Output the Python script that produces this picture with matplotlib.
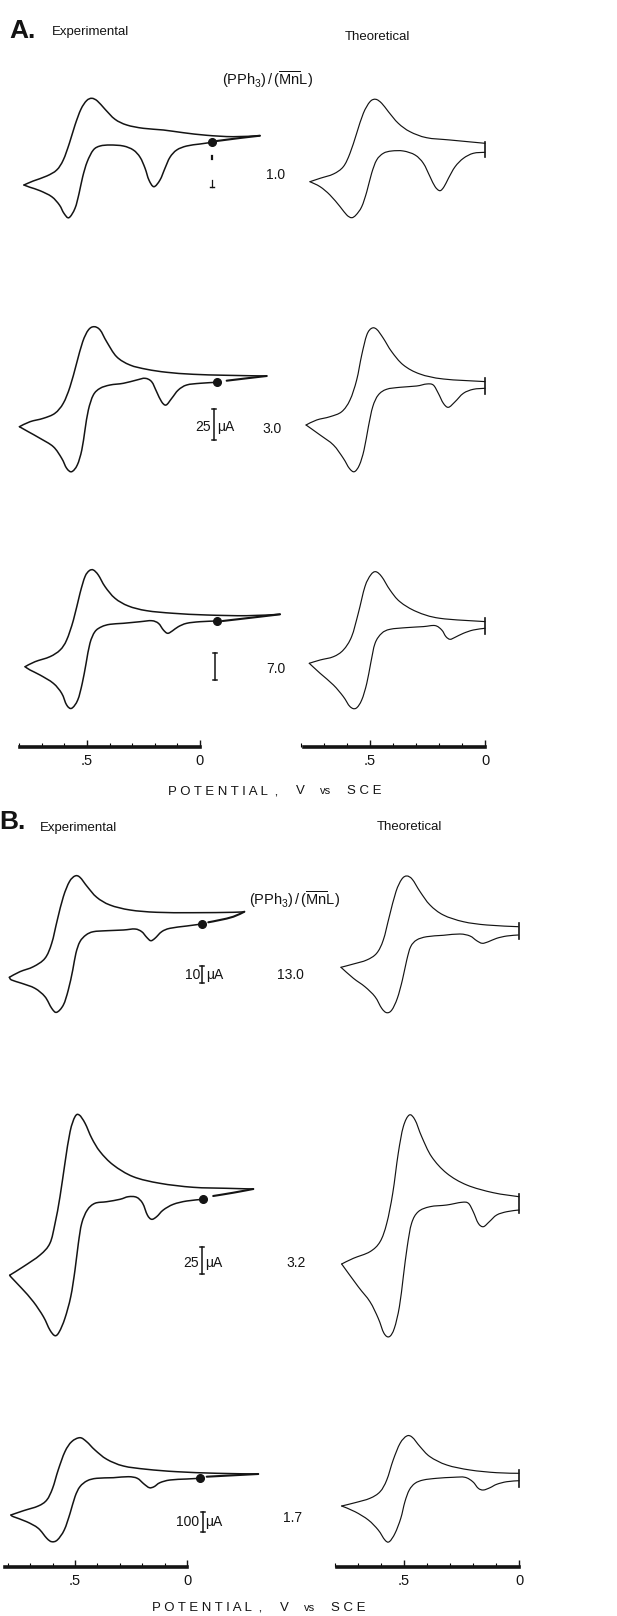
import numpy as np
import matplotlib
matplotlib.use("Agg")
import matplotlib.pyplot as plt
from matplotlib.path import Path
from matplotlib.patches import PathPatch

plt.rcParams['font.family'] = ['Liberation Sans', 'DejaVu Sans']
plt.rcParams['mathtext.fontset'] = 'custom'
plt.rcParams['mathtext.rm'] = 'Liberation Sans'
plt.rcParams['mathtext.it'] = 'Liberation Sans:italic'

# ---------------- data: potential (V vs SCE), current (chart units, up = +) ----------------
# Panel A, ratio 1.0
a1_exp_lo_E = [-0.054, 0.0, 0.059, 0.103, 0.133, 0.155, 0.177, 0.204, 0.226, 0.243, 0.265, 0.295, 0.339, 0.398, 0.442, 0.472, 0.499, 0.519, 0.535, 0.553, 0.580, 0.602, 0.622, 0.656, 0.708, 0.752, 0.779]
a1_exp_lo_i = [0, -1.7, -3.7, -7.7, -15, -26, -37.7, -44.4, -37.7, -26, -15, -7.7, -3.7, -2.7, -3.7, -7.7, -19.4, -34.4, -51, -66, -75.4, -71, -62.7, -54.4, -48.4, -45, -42.7]
a1_exp_up_E = [0.779, 0.738, 0.678, 0.634, 0.605, 0.578, 0.553, 0.527, 0.502, 0.479, 0.454, 0.420, 0.376, 0.324, 0.251, 0.162, 0.074, -0.030, -0.147, -0.265]
a1_exp_up_i = [-42.7, -38.7, -33.7, -27.7, -17.7, -1, 17.3, 33, 41.6, 44, 41.3, 33, 23, 17.3, 14, 12.3, 9.6, 7, 5.6, 6.6]
a1_exp_tail_E = [-0.265, -0.177, -0.074]
a1_exp_tail_i = [6.6, 4.3, 1.3]
a1_th_lo_E = [0.0, 0.051, 0.094, 0.130, 0.159, 0.178, 0.196, 0.217, 0.239, 0.268, 0.304, 0.355, 0.406, 0.442, 0.471, 0.493, 0.514, 0.536, 0.561, 0.580, 0.601, 0.630, 0.674, 0.717, 0.761]
a1_th_lo_i = [0, -1, -6, -14.4, -26, -34.4, -38.4, -34.4, -24.4, -11, -2.7, 1.3, 1.3, -1, -7.7, -21, -39.4, -54.4, -62.7, -65.4, -62.7, -54.4, -42.7, -34.4, -29.4]
a1_th_up_E = [0.761, 0.717, 0.659, 0.616, 0.587, 0.558, 0.529, 0.500, 0.475, 0.449, 0.420, 0.377, 0.326, 0.254, 0.152, 0.0]
a1_th_up_i = [-29.4, -26, -21.7, -14.4, -1, 19, 39, 50.6, 53, 49, 40.6, 29, 20.6, 14.6, 12.3, 9]

# Panel A, ratio 3.0
a2_exp_lo_E = [-0.074, 0.0, 0.059, 0.096, 0.125, 0.150, 0.170, 0.192, 0.214, 0.243, 0.280, 0.339, 0.398, 0.442, 0.472, 0.494, 0.509, 0.523, 0.543, 0.568, 0.590, 0.612, 0.649, 0.708, 0.760, 0.799]
a2_exp_lo_i = [0, -1, -2.7, -7.7, -16, -22.7, -19.4, -9.4, 0.6, 4, 2.3, -1, -2.7, -6, -12.7, -27.7, -47.7, -67.7, -82.7, -89.4, -86, -76, -64.4, -56, -49.4, -44.4]
a2_exp_up_E = [0.799, 0.752, 0.693, 0.642, 0.605, 0.575, 0.546, 0.519, 0.494, 0.469, 0.442, 0.413, 0.369, 0.310, 0.236, 0.147, 0.030, -0.118, -0.295]
a2_exp_up_i = [-44.4, -39.4, -36, -31, -21, -4.4, 19, 40.6, 52.3, 55.6, 52.3, 40.6, 25.6, 17.3, 13, 10, 8, 7, 6.3]
a2_exp_tail_E = [-0.295, -0.207, -0.118]
a2_exp_tail_i = [6.3, 4, 1.6]
a2_th_lo_E = [0.0, 0.051, 0.094, 0.130, 0.159, 0.181, 0.203, 0.225, 0.254, 0.297, 0.370, 0.428, 0.464, 0.488, 0.507, 0.526, 0.546, 0.568, 0.590, 0.616, 0.659, 0.717, 0.778]
a2_th_lo_i = [0, -1, -5, -13.4, -19, -15, -5, 3.3, 4.3, 2.3, 1, -1, -6.7, -18.4, -38.4, -61.7, -76.7, -83.4, -80, -70, -56.7, -46.7, -36.7]
a2_th_up_E = [0.778, 0.732, 0.674, 0.623, 0.587, 0.558, 0.536, 0.514, 0.493, 0.471, 0.442, 0.406, 0.355, 0.283, 0.181, 0.0]
a2_th_up_i = [-36.7, -31.7, -28.4, -23.4, -11.7, 8.3, 33.3, 53.3, 60, 59, 50, 36.7, 23.3, 14.3, 9.3, 6.7]

# Panel A, ratio 7.0
a3_exp_lo_E = [-0.074, 0.0, 0.059, 0.096, 0.121, 0.143, 0.162, 0.184, 0.214, 0.265, 0.339, 0.398, 0.435, 0.465, 0.487, 0.504, 0.521, 0.541, 0.568, 0.590, 0.612, 0.649, 0.708, 0.752, 0.774]
a3_exp_lo_i = [0, -0.7, -2.3, -5.7, -9.7, -12.3, -9, -2.3, 0.3, -0.7, -2.3, -3.3, -5.7, -10.7, -22.3, -42.3, -62.3, -79, -87.3, -84, -72.3, -62.3, -54, -49, -45.7]
a3_exp_up_E = [0.774, 0.730, 0.664, 0.619, 0.590, 0.560, 0.531, 0.509, 0.490, 0.472, 0.450, 0.420, 0.376, 0.317, 0.236, 0.118, -0.030, -0.207, -0.354]
a3_exp_up_i = [-45.7, -40.7, -35.7, -29, -19, 1, 27.7, 44.3, 50.3, 51, 46, 34.3, 22.7, 15, 10.3, 7.7, 6, 5.3, 6.7]
a3_exp_tail_E = [-0.354, -0.265, -0.100]
a3_exp_tail_i = [6.7, 4.3, 0]
a3_th_lo_E = [0.0, 0.051, 0.094, 0.130, 0.152, 0.170, 0.188, 0.217, 0.268, 0.340, 0.413, 0.449, 0.478, 0.497, 0.514, 0.536, 0.561, 0.587, 0.616, 0.659, 0.717, 0.764]
a3_th_lo_i = [0, -1.7, -5, -9, -11, -8.3, -1.7, 2.7, 1.7, 0.7, -1, -5, -15, -35, -55, -71.7, -80, -78.3, -68.3, -56.7, -45, -35]
a3_th_up_E = [0.764, 0.717, 0.659, 0.616, 0.580, 0.551, 0.522, 0.497, 0.475, 0.449, 0.413, 0.370, 0.297, 0.196, 0.0]
a3_th_up_i = [-35, -31.7, -28.4, -21.7, -8.4, 15, 41.7, 53.3, 56.6, 51.6, 38.3, 26.6, 16.6, 10, 6.7]

# Panel B, ratio 13.0
b1_exp_lo_E = [-0.066, 0.001, 0.076, 0.113, 0.143, 0.162, 0.180, 0.202, 0.232, 0.284, 0.358, 0.418, 0.451, 0.478, 0.496, 0.510, 0.530, 0.552, 0.582, 0.604, 0.634, 0.679, 0.738, 0.783, 0.793]
b1_exp_lo_i = [0, -2, -4.3, -7.7, -14.3, -16.7, -13.3, -7.7, -5, -6, -6.7, -7.7, -11, -17.7, -29.3, -46, -66, -81, -88.3, -84.3, -72.7, -64.3, -59.3, -56, -53.3]
b1_exp_up_E = [0.793, 0.746, 0.686, 0.634, 0.604, 0.579, 0.552, 0.525, 0.500, 0.478, 0.445, 0.403, 0.344, 0.254, 0.135, -0.028, -0.207, -0.256]
b1_exp_up_i = [-53.3, -47.7, -42.7, -34.3, -19.3, 4, 27.3, 42.3, 48, 46.7, 37.3, 26.7, 19, 14, 11.7, 11.3, 11.7, 12.3]
b1_exp_tail_E = [-0.256, -0.207, -0.147, -0.095]
b1_exp_tail_i = [12.3, 7.3, 4, 1.7]
b1_th_lo_E = [0.003, 0.053, 0.097, 0.133, 0.160, 0.184, 0.213, 0.257, 0.329, 0.401, 0.445, 0.471, 0.488, 0.507, 0.529, 0.553, 0.575, 0.597, 0.626, 0.670, 0.720, 0.774]
b1_th_lo_i = [0, -1, -3.3, -6.7, -8.3, -5.7, -1, 1, -0.3, -1.7, -5, -11.7, -25, -45, -63.3, -75, -77.7, -73.3, -61.7, -51.7, -43.3, -32.3]
b1_th_up_E = [0.774, 0.720, 0.662, 0.619, 0.590, 0.564, 0.535, 0.510, 0.488, 0.464, 0.430, 0.387, 0.329, 0.242, 0.140, 0.003]
b1_th_up_i = [-32.3, -29, -25, -18.3, -5, 18.3, 43.3, 55.7, 59, 55.7, 43.3, 30, 20, 13.3, 10, 8.3]

# Panel B, ratio 3.2
b2_exp_lo_E = [-0.073, 0.001, 0.061, 0.106, 0.135, 0.158, 0.177, 0.198, 0.225, 0.262, 0.299, 0.358, 0.411, 0.445, 0.470, 0.485, 0.500, 0.519, 0.545, 0.570, 0.589, 0.612, 0.641, 0.686, 0.738, 0.787, 0.790]
b2_exp_lo_i = [0, -1.7, -5, -10.7, -17.3, -20, -15.7, -4, 2, 2.6, 0, -2.4, -4, -10.7, -24, -44, -70.7, -97.4, -119, -132.4, -136.4, -130.7, -117.4, -102.4, -89, -77.4, -75.7]
b2_exp_up_E = [0.790, 0.731, 0.656, 0.612, 0.589, 0.567, 0.545, 0.522, 0.500, 0.481, 0.455, 0.425, 0.388, 0.329, 0.240, 0.121, -0.028, -0.177, -0.296]
b2_exp_up_i = [-75.7, -67.4, -55.7, -44, -24, 2.6, 36, 67.6, 82.6, 84.3, 76, 61, 47.6, 34.3, 22.6, 16, 12, 11, 10.3]
b2_exp_tail_E = [-0.296, -0.207, -0.117]
b2_exp_tail_i = [10.3, 6.6, 3.3]
b2_th_lo_E = [0.0, 0.053, 0.097, 0.129, 0.155, 0.177, 0.199, 0.220, 0.249, 0.314, 0.387, 0.438, 0.467, 0.486, 0.503, 0.520, 0.542, 0.564, 0.587, 0.612, 0.648, 0.699, 0.771]
b2_th_lo_i = [0, -1.7, -5, -11.7, -16.7, -13.3, -1.7, 6.7, 7.7, 5, 3.3, -1.7, -13.3, -36.7, -66.7, -96.7, -118.3, -126.7, -123.3, -108.3, -91.7, -76.7, -54]
b2_th_up_E = [0.771, 0.720, 0.648, 0.604, 0.575, 0.549, 0.525, 0.503, 0.477, 0.452, 0.423, 0.380, 0.314, 0.227, 0.112, 0.0]
b2_th_up_i = [-54, -48.3, -41.7, -31.7, -13.3, 16.7, 56.7, 83.3, 95, 90, 73.3, 53.3, 36.7, 25, 17.3, 13.3]

# Panel B, ratio 1.7
b3_exp_lo_E = [-0.058, 0.001, 0.076, 0.121, 0.147, 0.168, 0.192, 0.222, 0.262, 0.329, 0.403, 0.445, 0.478, 0.500, 0.522, 0.548, 0.579, 0.604, 0.626, 0.664, 0.716, 0.775, 0.786]
b3_exp_lo_i = [0, -0.7, -1.7, -4.4, -8.4, -9.4, -5.7, 0, 1.6, 0.6, 0, -2.4, -8.4, -18.4, -35, -51.7, -61.7, -63.4, -60, -50, -43.4, -38.4, -36.7]
b3_exp_up_E = [0.786, 0.730, 0.664, 0.626, 0.600, 0.575, 0.545, 0.515, 0.478, 0.448, 0.411, 0.358, 0.284, 0.180, 0.046, -0.133, -0.318]
b3_exp_up_i = [-36.7, -32.4, -27.7, -21.7, -10, 8.3, 26.6, 36.6, 40.6, 36.6, 28.3, 19, 12.3, 9, 6.6, 5, 4.3]
b3_exp_tail_E = [-0.318, -0.207, -0.088]
b3_exp_tail_i = [4.3, 3, 1.6]
b3_th_lo_E = [0.0, 0.053, 0.097, 0.126, 0.155, 0.177, 0.201, 0.235, 0.286, 0.358, 0.416, 0.452, 0.477, 0.496, 0.514, 0.539, 0.564, 0.583, 0.612, 0.655, 0.713, 0.771]
b3_th_lo_i = [0, -1, -3.6, -7, -9.3, -7.6, -1, 3.4, 3.4, 2.4, 0.7, -2.6, -9.3, -21, -37.6, -52.6, -61, -59.3, -49.3, -39.3, -31, -25.3]
b3_th_up_E = [0.771, 0.713, 0.648, 0.604, 0.575, 0.547, 0.517, 0.488, 0.464, 0.430, 0.387, 0.314, 0.213, 0.097, 0.0]
b3_th_up_i = [-25.3, -22, -17.6, -11, 0.7, 20.7, 37.4, 44.7, 43.4, 34, 24, 15.7, 10.7, 8, 7.4]

ratio_labels = ["1.0", "3.0", "7.0", "13.0", "3.2", "1.7"]
scale_labels = [None, "25", None, "10", "25", "100"]
theo_end_bars = [(-4.5, 10.5), (-5.5, 10.0), (-5.5, 10.5), (-3.5, 11.7), (-2.7, 16.0), (-6.7, 10.7)]
# scale bars (E position, current from, current to)
scale_bars = [None, (-0.062, -26.7, -57.7), (-0.066, -32.0, -59.0),
              (-0.067, -42.0, -59.0), (-0.067, -47.7, -74.7), (-0.071, -33.7, -53.7)]

# ---------------- layout ----------------
W, H = 617, 1616
fig = plt.figure(figsize=(W / 100, H / 100), dpi=100)
fig.patch.set_facecolor('white')
INK = '#141414'

def fx(x):
    return x / W

def fy(y):
    return 1 - y / H

def ftext(x, y, s, **kw):
    kw.setdefault('color', INK)
    fig.text(fx(x), fy(y), s, **kw)

def cv_axes(x0, ppv, yref, left, right, top, bottom):
    ax = fig.add_axes([fx(left), fy(bottom), (right - left) / W, (bottom - top) / H])
    ax.set_xlim((x0 - left) / ppv, (x0 - right) / ppv)
    ax.set_ylim(yref - bottom, yref - top)
    ax.axis('off')
    ax.patch.set_visible(False)
    return ax

def smooth_line(ax, E, i, lw):
    """Draw a smooth (Catmull-Rom) pen trace through the read points."""
    P = np.column_stack([E, i]).astype(float)
    n = len(P)
    ext = np.vstack([P[0], P, P[-1]])
    verts = [P[0]]
    codes = [Path.MOVETO]
    for k in range(n - 1):
        p0, p1, p2, p3 = ext[k], ext[k + 1], ext[k + 2], ext[k + 3]
        c1 = p1 + (p2 - p0) / 6.0
        c2 = p2 - (p3 - p1) / 6.0
        verts += [c1, c2, p2]
        codes += [Path.CURVE4] * 3
    patch = PathPatch(Path(verts, codes), fill=False, lw=lw, edgecolor=INK,
                      capstyle='round', joinstyle='round', clip_on=False)
    ax.add_patch(patch)

def potential_axis(x0, ppv, ybar, left, right, emax):
    ax = fig.add_axes([fx(left), fy(ybar), (right - left) / W, 3 / H])
    ax.set_xlim((x0 - left) / ppv, (x0 - right) / ppv)
    ax.set_ylim(0, 1)
    ax.patch.set_visible(False)
    for s in ['top', 'left', 'right']:
        ax.spines[s].set_visible(False)
    ax.spines['bottom'].set_bounds(0, emax)
    ax.spines['bottom'].set_linewidth(2.6)
    ax.spines['bottom'].set_color(INK)
    ax.set_yticks([])
    ax.set_xticks([0.5, 0.0])
    ax.set_xticklabels(['.5', '0'])
    ax.set_xticks(np.arange(0.1, 0.85, 0.1), minor=True)
    ax.tick_params(axis='x', which='major', direction='in', length=5, width=1.0,
                   pad=5, labelsize=10.5, colors=INK)
    ax.tick_params(axis='x', which='minor', direction='in', length=3, width=0.8)
    return ax

# panel mappings: (x px of 0 V, px per V)
mapA_exp, mapA_th = (200, 226), (485, 230)
mapB_exp, mapB_th = (187, 224), (519, 230)

rows = [
    ((a1_exp_lo_E, a1_exp_lo_i, a1_exp_up_E, a1_exp_up_i, a1_exp_tail_E, a1_exp_tail_i),
     (a1_th_lo_E, a1_th_lo_i, a1_th_up_E, a1_th_up_i), mapA_exp, mapA_th, 142.3, 152.3, 60, 250),
    ((a2_exp_lo_E, a2_exp_lo_i, a2_exp_up_E, a2_exp_up_i, a2_exp_tail_E, a2_exp_tail_i),
     (a2_th_lo_E, a2_th_lo_i, a2_th_up_E, a2_th_up_i), mapA_exp, mapA_th, 382.3, 388.3, 260, 480),
    ((a3_exp_lo_E, a3_exp_lo_i, a3_exp_up_E, a3_exp_up_i, a3_exp_tail_E, a3_exp_tail_i),
     (a3_th_lo_E, a3_th_lo_i, a3_th_up_E, a3_th_up_i), mapA_exp, mapA_th, 621.0, 628.3, 480, 730),
    ((b1_exp_lo_E, b1_exp_lo_i, b1_exp_up_E, b1_exp_up_i, b1_exp_tail_E, b1_exp_tail_i),
     (b1_th_lo_E, b1_th_lo_i, b1_th_up_E, b1_th_up_i), mapB_exp, mapB_th, 924.0, 935.0, 850, 1050),
    ((b2_exp_lo_E, b2_exp_lo_i, b2_exp_up_E, b2_exp_up_i, b2_exp_tail_E, b2_exp_tail_i),
     (b2_th_lo_E, b2_th_lo_i, b2_th_up_E, b2_th_up_i), mapB_exp, mapB_th, 1199.3, 1210.0, 1060, 1380),
    ((b3_exp_lo_E, b3_exp_lo_i, b3_exp_up_E, b3_exp_up_i, b3_exp_tail_E, b3_exp_tail_i),
     (b3_th_lo_E, b3_th_lo_i, b3_th_up_E, b3_th_up_i), mapB_exp, mapB_th, 1478.3, 1480.7, 1390, 1550),
]

for k, (ed, td, emap, tmap, eyref, tyref, top, bot) in enumerate(rows):
    lo_E, lo_i, up_E, up_i, tl_E, tl_i = ed
    axe = cv_axes(emap[0], emap[1], eyref, 0, 300, top, bot)
    smooth_line(axe, lo_E, lo_i, 1.1)
    smooth_line(axe, up_E, up_i, 1.1)
    smooth_line(axe, tl_E, tl_i, 1.5)
    axe.plot([lo_E[0]], [lo_i[0]], 'o', color=INK, ms=5.5, clip_on=False)
    sb = scale_bars[k]
    if sb is not None:
        e, i0, i1 = sb
        axe.plot([e, e], [i0, i1], color=INK, lw=1.1, clip_on=False)
        for iv in (i0, i1):
            axe.plot([e - 0.009, e + 0.009], [iv, iv], color=INK, lw=1.1, clip_on=False)
    elif k == 0:
        e = -0.053
        axe.plot([e, e], [-13.8, -17.2], color=INK, lw=1.6, clip_on=False)
        axe.plot([e, e], [-37.5, -44.5], color=INK, lw=0.9, clip_on=False)
        axe.plot([e - 0.009, e + 0.009], [-44.5, -44.5], color=INK, lw=1.0, clip_on=False)

    tlo_E, tlo_i, tup_E, tup_i = td
    axt = cv_axes(tmap[0], tmap[1], tyref, 300, 617, top, bot)
    smooth_line(axt, tlo_E, tlo_i, 0.85)
    smooth_line(axt, tup_E, tup_i, 0.85)
    b0, b1 = theo_end_bars[k]
    axt.plot([0, 0], [b0, b1], color=INK, lw=1.2, clip_on=False)

# potential axes
potential_axis(mapA_exp[0], mapA_exp[1], 747, 0, 300, 0.797)
potential_axis(mapA_th[0], mapA_th[1], 747, 300, 617, 0.787)
potential_axis(mapB_exp[0], mapB_exp[1], 1567, 0, 300, 0.812)
potential_axis(mapB_th[0], mapB_th[1], 1567, 300, 617, 0.791)

# ---------------- text ----------------
ftext(9, 31, 'A.', fontsize=19, fontweight='bold', va='center', ha='left')
ftext(-1, 822, 'B.', fontsize=19, fontweight='bold', va='center', ha='left')
ftext(52, 32, 'Experimental', fontsize=9.5, va='center', ha='left')
ftext(345, 37, 'Theoretical', fontsize=9.5, va='center', ha='left')
ftext(40, 828, 'Experimental', fontsize=9.5, va='center', ha='left')
ftext(377, 827, 'Theoretical', fontsize=9.5, va='center', ha='left')

ratio_txt = r'$(\mathrm{PPh_3})\,/\,(\overline{\mathrm{Mn}}\mathrm{L})$'
ftext(268, 80, ratio_txt, fontsize=10.5, va='center', ha='center')
ftext(295, 900, ratio_txt, fontsize=10.5, va='center', ha='center')

ratio_pos = [(276, 175), (272, 429), (276, 669), (290, 975), (296, 1263), (293, 1518)]
for lab, (x, y) in zip(ratio_labels, ratio_pos):
    ftext(x, y, lab, fontsize=10, va='center', ha='center')

scale_pos = [None, (211, 427), None, (200, 975), (199, 1263), (199, 1522)]
for lab, pos in zip(scale_labels, scale_pos):
    if lab is None:
        continue
    x, y = pos
    ftext(x, y, lab, fontsize=10, va='center', ha='right')
    ftext(x + 6, y, 'μA', fontsize=10, va='center', ha='left')

for (x1, y) in [(168, 791), (152, 1608)]:
    ftext(x1, y, 'P O T E N T I A L  ,', fontsize=9.5, va='center', ha='left')
    ftext(x1 + 128, y, 'V', fontsize=9.5, va='center', ha='left')
    ftext(x1 + 152, y, 'vs', fontsize=8, va='center', ha='left')
    ftext(x1 + 179, y, 'S C E', fontsize=9.5, va='center', ha='left')

fig.savefig('out.png', dpi=100, facecolor='white')
